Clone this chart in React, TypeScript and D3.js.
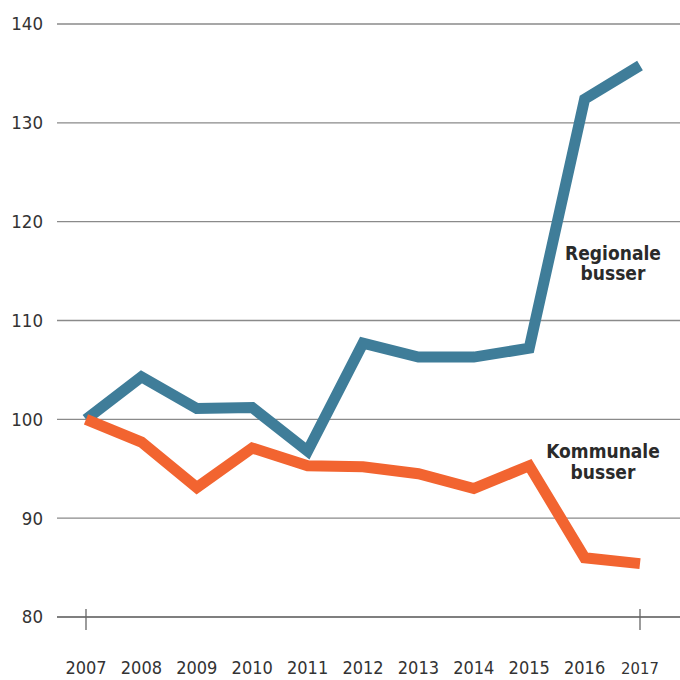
import React from "react";
import * as d3 from "d3";

const years = [2007, 2008, 2009, 2010, 2011, 2012, 2013, 2014, 2015, 2016, 2017];
const regionale = [100, 104.3, 101.1, 101.2, 96.8, 107.7, 106.3, 106.3, 107.2, 132.4, 135.8];
const kommunale = [100, 97.7, 93.1, 97.1, 95.3, 95.2, 94.5, 93.0, 95.3, 86.0, 85.4];
const yTicks = [80, 90, 100, 110, 120, 130, 140];

const W = 680;
const H = 680;
const font = "'DejaVu Sans Condensed', 'DejaVu Sans', sans-serif";

export default function App() {
  const x = d3.scaleLinear().domain([2007, 2017]).range([86, 640]);
  const y = d3.scaleLinear().domain([80, 140]).range([617, 24]);

  const line = d3
    .line<number>()
    .x((_, i) => x(years[i]))
    .y((d) => y(d));

  return (
    <svg
      width={W}
      height={H}
      style={{ position: "absolute", left: 0, top: 0, background: "#fff" }}
    >
      {/* gridlines and y labels */}
      {yTicks.map((t) => (
        <g key={t}>
          <line
            x1={57}
            x2={W}
            y1={y(t)}
            y2={y(t)}
            stroke={t === 80 ? "#555" : "#8a8a8a"}
            strokeWidth={1.3}
          />
          <text
            x={43}
            y={y(t)}
            dy="0.35em"
            textAnchor="end"
            fontFamily={font}
            fontSize={18.5}
            fill="#333"
          >
            {t}
          </text>
        </g>
      ))}

      {/* end ticks */}
      {[2007, 2017].map((yr) => (
        <line
          key={yr}
          x1={x(yr)}
          x2={x(yr)}
          y1={609}
          y2={630}
          stroke="#666"
          strokeWidth={1.3}
        />
      ))}

      {/* x labels */}
      {years.map((yr) => (
        <text
          key={yr}
          x={x(yr)}
          y={674}
          textAnchor="middle"
          fontFamily={font}
          fontSize={yr === 2017 ? 16.5 : 18}
          fill="#333"
        >
          {yr}
        </text>
      ))}

      <path
        d={line(regionale) ?? ""}
        fill="none"
        stroke="#3f7d99"
        strokeWidth={11}
        strokeLinejoin="miter"
      />
      <path
        d={line(kommunale) ?? ""}
        fill="none"
        stroke="#f26430"
        strokeWidth={11}
        strokeLinejoin="miter"
      />

      <text
        x={613}
        textAnchor="middle"
        fontFamily={font}
        fontWeight="bold"
        fontSize={19}
        fill="#2a2a2a"
      >
        <tspan x={613} y={260}>Regionale</tspan>
        <tspan x={613} y={280}>busser</tspan>
      </text>
      <text
        x={603}
        textAnchor="middle"
        fontFamily={font}
        fontWeight="bold"
        fontSize={19}
        fill="#2a2a2a"
      >
        <tspan x={603} y={458}>Kommunale</tspan>
        <tspan x={603} y={479}>busser</tspan>
      </text>
    </svg>
  );
}
